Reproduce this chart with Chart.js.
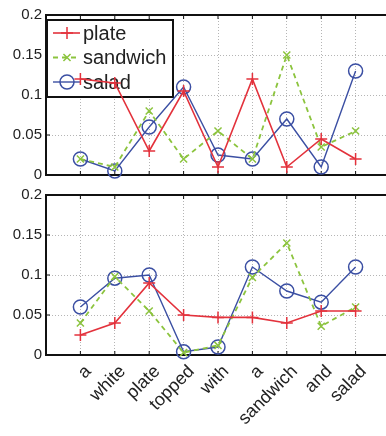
<!DOCTYPE html>
<html>
<head>
<meta charset="utf-8">
<script src="https://cdn.jsdelivr.net/npm/chart.js@4.4.1/dist/chart.umd.min.js"></script>
<style>
  html, body { margin: 0; padding: 0; background: #fff; overflow: hidden; }
  #wrap { position: relative; width: 386px; height: 436px; overflow: hidden; }
  canvas { position: absolute; left: 0; }
  #top { top: 0; }
  #bottom { top: 180px; }
</style>
</head>
<body>
<div id="wrap">
  <canvas id="top" width="400" height="186"></canvas>
  <canvas id="bottom" width="400" height="256"></canvas>
</div>
<script>
// Words of the caption, one per x position
const categories = ['a', 'white', 'plate', 'topped', 'with', 'a', 'sandwich', 'and', 'salad'];
const seriesNames = ['plate', 'sandwich', 'salad'];

// Upper panel
const topPlate    = [0.12, 0.115, 0.03, 0.105, 0.01, 0.12, 0.01, 0.045, 0.02];
const topSandwich = [0.02, 0.01, 0.08, 0.02, 0.055, 0.02, 0.15, 0.035, 0.055];
const topSalad    = [0.02, 0.005, 0.06, 0.11, 0.025, 0.02, 0.07, 0.01, 0.13];

// Lower panel
const bottomPlate    = [0.025, 0.04, 0.09, 0.05, 0.047, 0.047, 0.04, 0.055, 0.055];
const bottomSandwich = [0.04, 0.098, 0.055, 0.003, 0.012, 0.097, 0.14, 0.036, 0.06];
const bottomSalad    = [0.06, 0.096, 0.1, 0.004, 0.01, 0.11, 0.08, 0.066, 0.11];

const yTicks = [0, 0.05, 0.1, 0.15, 0.2];

const RED = '#e3323c';
const GREEN = '#8cc43e';
const BLUE = '#3b4fa3';
const FONT = "'Liberation Sans', Arial, sans-serif";

const styles = [
  { color: RED,   pointStyle: 'cross',    radius: 6, dash: [],     width: 1.6 },
  { color: GREEN, pointStyle: 'crossRot', radius: 5, dash: [5, 4], width: 1.8 },
  { color: BLUE,  pointStyle: 'circle',   radius: 7, dash: [],     width: 1.4 }
];

function toPoints(values) {
  return values.map((v, i) => ({ x: i + 1, y: v }));
}

// Box around the axes with small inward tick marks
const framePlugin = {
  id: 'frame',
  beforeDatasetsDraw(chart) {
    const { ctx, chartArea: a } = chart;
    ctx.save();
    ctx.strokeStyle = '#111';
    ctx.lineWidth = 1;
    const ys = chart.scales.y;
    yTicks.forEach(t => {
      const py = ys.getPixelForValue(t);
      ctx.beginPath();
      ctx.moveTo(a.left, py); ctx.lineTo(a.left + 4, py);
      ctx.stroke();
    });
    const xs = chart.scales.x;
    categories.forEach((c, i) => {
      const px = xs.getPixelForValue(i + 1);
      ctx.beginPath();
      ctx.moveTo(px, a.bottom); ctx.lineTo(px, a.bottom - 4);
      ctx.moveTo(px, a.top); ctx.lineTo(px, a.top + 4);
      ctx.stroke();
    });
    ctx.lineWidth = 2;
    ctx.strokeRect(a.left, a.top, a.right - a.left, a.bottom - a.top);
    ctx.restore();
  }
};

// Boxed legend in the upper-left corner of the upper panel
const legendBoxPlugin = {
  id: 'legendBox',
  beforeDatasetsDraw(chart, args, opts) {
    if (!opts.show) return;
    const { ctx, chartArea: a } = chart;
    const x0 = a.left + 1, y0 = a.top + 5, w = 126, h = 77;
    ctx.save();
    ctx.fillStyle = '#fff';
    ctx.fillRect(x0, y0, w, h);
    ctx.strokeStyle = '#111';
    ctx.lineWidth = 2;
    ctx.strokeRect(x0, y0, w, h);
    seriesNames.forEach((name, i) => {
      const s = styles[i];
      const cy = y0 + 13 + i * 24.5;
      ctx.strokeStyle = s.color;
      ctx.lineWidth = s.width;
      ctx.setLineDash(s.dash);
      ctx.beginPath();
      ctx.moveTo(x0 + 6, cy); ctx.lineTo(x0 + 33, cy);
      ctx.stroke();
      ctx.setLineDash([]);
      ctx.fillStyle = 'rgba(0,0,0,0)';
      ctx.lineWidth = 1.5;
      Chart.helpers.drawPoint(ctx, {
        pointStyle: s.pointStyle, radius: s.radius, rotation: 0,
        borderWidth: 1.5
      }, x0 + 20, cy);
      ctx.fillStyle = '#222';
      ctx.font = '20px ' + FONT;
      ctx.textBaseline = 'middle';
      ctx.textAlign = 'left';
      ctx.fillText(name, x0 + 36, cy + 1);
    });
    ctx.restore();
  }
};

function makePanel(canvasId, values, showLabels, showLegend, xAxisHeight) {
  const datasets = values.map((vals, i) => {
    const s = styles[i];
    return {
      label: seriesNames[i],
      data: toPoints(vals),
      borderColor: s.color,
      borderWidth: s.width,
      borderDash: s.dash,
      pointStyle: s.pointStyle,
      pointRadius: s.radius,
      pointBorderColor: s.color,
      pointBackgroundColor: 'rgba(0,0,0,0)',
      pointBorderWidth: 1.5,
      tension: 0,
      clip: false
    };
  });
  return new Chart(document.getElementById(canvasId), {
    type: 'line',
    data: { datasets },
    plugins: [framePlugin, legendBoxPlugin],
    options: {
      responsive: false,
      animation: false,
      devicePixelRatio: 1,
      layout: { padding: { top: 15, right: 10, left: 0, bottom: 0 } },
      plugins: {
        legend: { display: false },
        tooltip: { enabled: false },
        legendBox: { show: showLegend }
      },
      scales: {
        x: {
          type: 'linear',
          min: 0, max: 10,
          afterBuildTicks(scale) {
            scale.ticks = Array.from({ length: 11 }, (_, i) => ({ value: i }));
          },
          afterFit(scale) {
            scale.height = xAxisHeight;
            scale.paddingLeft = 0;
            scale.paddingRight = 0;
          },
          grid: { color: '#b5b5b5', lineWidth: 1, drawTicks: false },
          border: { display: false, dash: [1, 2] },
          ticks: {
            display: showLabels,
            autoSkip: false,
            minRotation: 45, maxRotation: 45,
            padding: 6,
            labelOffset: 8,
            color: '#222',
            font: { family: FONT, size: 18 },
            callback: (v) => categories[v - 1] || ''
          }
        },
        y: {
          min: 0, max: 0.2,
          afterBuildTicks(scale) {
            scale.ticks = yTicks.map(v => ({ value: v }));
          },
          afterFit(scale) {
            scale.width = 46;
            scale.paddingTop = 0;
            scale.paddingBottom = 0;
          },
          grid: { color: '#b5b5b5', lineWidth: 1, drawTicks: false },
          border: { display: false, dash: [1, 2] },
          ticks: {
            padding: 4,
            color: '#222',
            font: { family: FONT, size: 15 },
            callback: (v) => String(v)
          }
        }
      }
    }
  });
}

makePanel('top', [topPlate, topSandwich, topSalad], false, true, 11);
makePanel('bottom', [bottomPlate, bottomSandwich, bottomSalad], true, false, 81);
</script>
</body>
</html>
